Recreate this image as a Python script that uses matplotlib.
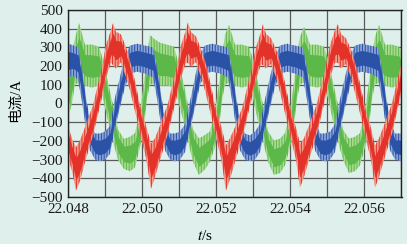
import numpy as np
import matplotlib
matplotlib.use('Agg')
from matplotlib import pyplot as plt

plt.rcParams['font.family'] = 'serif'
plt.rcParams['font.serif'] = ['Liberation Serif', 'Times New Roman', 'DejaVu Serif']
plt.rcParams['mathtext.fontset'] = 'stix'
plt.rcParams['hatch.linewidth'] = 0.7

T0 = 22.048  # time origin, s; keypoint times below are ms after it

# red phase: time (ms), lower / upper edge of the noisy trace (A)
t_red = [0.000, 0.108, 0.216, 0.324, 0.459, 0.675, 0.891, 1.026, 1.160, 1.214,
         1.295, 1.430, 1.565, 1.673, 1.808, 1.943, 2.105, 2.240,
         2.348, 2.483, 2.699, 2.915, 3.050, 3.184, 3.238, 3.319, 3.454, 3.589,
         3.697, 3.832, 3.967, 4.129, 4.263,
         4.371, 4.506, 4.722, 4.938, 5.073, 5.208, 5.262, 5.343, 5.478, 5.613,
         5.721, 5.856, 5.991, 6.153, 6.260,
         6.368, 6.503, 6.719, 6.935, 7.070, 7.204, 7.285, 7.366, 7.501, 7.636,
         7.744, 7.879, 8.014, 8.176, 8.284,
         8.392, 8.527, 8.743, 9.000]
red_lo = [-280, -350, -450, -400, -300, -160, 20, 150, 230, 220,
          200, 230, 150, 80, -30, -150, -280, -440,
          -380, -290, -150, 30, 150, 230, 230, 210, 230, 150,
          80, -30, -150, -280, -450,
          -390, -300, -160, 20, 140, 220, 220, 200, 220, 150,
          70, -40, -160, -290, -435,
          -380, -290, -150, 30, 150, 230, 230, 200, 220, 150,
          70, -40, -160, -290, -435,
          -380, -290, -150, 70]
red_hi = [-130, -200, -250, -210, -140, -20, 160, 300, 380, 415,
          370, 360, 290, 220, 110, -20, -130, -230,
          -200, -130, -10, 170, 300, 380, 420, 370, 350, 280,
          220, 110, -20, -130, -240,
          -200, -140, -20, 160, 290, 370, 410, 360, 340, 280,
          210, 100, -30, -140, -230,
          -200, -130, -10, 170, 300, 380, 410, 360, 340, 280,
          210, 100, -30, -140, -240,
          -200, -130, -10, 210]

# blue phase
t_blue = [0.000, 0.135, 0.270,
          0.378, 0.486, 0.594, 0.729, 0.864, 0.999, 1.133, 1.268, 1.403, 1.538,
          1.673, 1.862, 2.078, 2.294,
          2.402, 2.510, 2.618, 2.753, 2.888, 3.023, 3.157, 3.292, 3.427, 3.562,
          3.697, 3.886, 4.102, 4.318,
          4.426, 4.534, 4.642, 4.777, 4.912, 5.047, 5.181, 5.316, 5.451, 5.586,
          5.721, 5.910, 6.126, 6.342,
          6.450, 6.558, 6.666, 6.801, 6.936, 7.071, 7.205, 7.340, 7.475, 7.610,
          7.745, 7.934, 8.150, 8.366,
          8.474, 8.582, 8.690, 8.825, 9.000]
blue_lo = [150, 160, 140,
           20, -120, -240, -290, -300, -290, -260, -120, -10, 100,
           170, 180, 170, 150,
           40, -100, -240, -290, -300, -290, -250, -130, -10, 110,
           170, 180, 170, 150,
           30, -110, -240, -290, -300, -290, -250, -130, -10, 100,
           170, 180, 170, 150,
           30, -110, -240, -290, -300, -290, -250, -130, -10, 100,
           170, 180, 170, 150,
           30, -110, -240, -290, -300]
blue_hi = [310, 300, 290,
           180, 20, -100, -170, -170, -160, -130, 20, 130, 240,
           300, 310, 300, 290,
           190, 40, -100, -170, -170, -160, -120, 0, 130, 250,
           300, 310, 300, 290,
           180, 30, -100, -170, -180, -160, -120, 10, 130, 240,
           300, 310, 300, 290,
           180, 30, -100, -170, -170, -160, -120, 10, 130, 240,
           300, 310, 300, 290,
           180, 30, -100, -170, -170]

# green phase
t_green = [0.000, 0.108,
           0.189, 0.297, 0.459, 0.648, 0.837, 0.945, 1.079, 1.214, 1.349, 1.511,
           1.673, 1.808, 1.943, 2.051, 2.132,
           2.213, 2.321, 2.483, 2.672, 2.861, 2.969, 3.103, 3.238, 3.373, 3.535,
           3.697, 3.832, 3.967, 4.075, 4.156,
           4.237, 4.345, 4.507, 4.696, 4.885, 4.993, 5.127, 5.262, 5.397, 5.559,
           5.721, 5.856, 5.991, 6.099, 6.180,
           6.261, 6.369, 6.531, 6.720, 6.909, 7.017, 7.151, 7.286, 7.421, 7.583,
           7.745, 7.880, 8.015, 8.123, 8.204,
           8.285, 8.393, 8.555, 8.744, 8.933, 9.000]
green_lo = [-60, 20,
            120, 130, 110, 100, 110, 40, -80, -190, -290, -340,
            -350, -330, -220, -100, 40,
            120, 120, 110, 110, 100, 30, -70, -190, -300, -370,
            -340, -300, -220, -110, 30,
            120, 130, 110, 100, 110, 40, -80, -190, -300, -370,
            -360, -320, -220, -100, 40,
            120, 130, 110, 100, 110, 40, -80, -190, -290, -360,
            -350, -320, -220, -100, 40,
            120, 130, 110, 100, 110, 80]
green_hi = [160, 260,
            330, 410, 300, 300, 290, 220, 100, -20, -150, -200,
            -190, -170, -50, 100, 240,
            350, 330, 310, 300, 290, 210, 110, -20, -150, -200,
            -180, -160, -50, 90, 230,
            350, 400, 300, 300, 290, 220, 100, -20, -160, -210,
            -200, -170, -50, 100, 240,
            340, 390, 300, 300, 290, 220, 100, -20, -150, -200,
            -190, -170, -50, 100, 240,
            340, 400, 300, 300, 290, 260]

x_ticks = [22.048, 22.050, 22.052, 22.054, 22.056]
y_ticks = [-500, -400, -300, -200, -100, 0, 100, 200, 300, 400, 500]

bg = '#dff0ec'
phases = [
    (t_green, green_lo, green_hi, '#5db84a', '#a8da92'),
    (t_blue, blue_lo, blue_hi, '#2a52a6', '#8aa3d8'),
    (t_red, red_lo, red_hi, '#e3322a', '#f29c8a'),
]

fig = plt.figure(figsize=(4.07, 2.44), dpi=100, facecolor=bg)
ax = fig.add_axes([68 / 407, 1 - 197 / 244, (401.5 - 68) / 407, 187 / 244])
ax.set_facecolor(bg)

for t_ms, lo, hi, c_dark, c_light in phases:
    t = T0 + np.array(t_ms) * 1e-3
    lo = np.array(lo, float)
    hi = np.array(hi, float)
    mid = (lo + hi) / 2
    half = (hi - lo) / 2
    # light envelope with fine vertical strokes for the switching noise
    ax.fill_between(t, lo - 0.15 * half, hi + 0.15 * half, facecolor=c_light,
                    edgecolor=c_dark, hatch='||||||', lw=0, zorder=2)
    ax.fill_between(t, mid - 0.6 * half, mid + 0.6 * half, color=c_dark, lw=0, zorder=2)

ax.set_xlim(22.048, 22.057)
ax.set_ylim(-500, 500)
ax.set_xticks(x_ticks)
ax.set_xticks(np.arange(22.049, 22.0571, 0.002), minor=True)
ax.set_xticklabels(['%.3f' % v for v in x_ticks])
ax.set_yticks(y_ticks)
ax.grid(True, which='both', color='#5a5a5a', lw=0.9, zorder=1)
ax.set_axisbelow(True)
ax.tick_params(which='both', length=0, labelsize=11, colors='#1a1a1a')
ax.tick_params(axis='y', pad=4)
ax.tick_params(axis='x', pad=4)
for s in ax.spines.values():
    s.set_color('#222222')
    s.set_linewidth(1.0)

fig.text(15 / 407, 1 - 100 / 244, '电流/A', rotation=90, ha='center', va='center',
         fontsize=10.5, family=['Liberation Serif', 'Noto Sans CJK SC'])
fig.text(205 / 407, 1 - 236 / 244, r'$t$/s', ha='center', va='center', fontsize=11)

fig.savefig('out.png', dpi=100, facecolor=bg)
